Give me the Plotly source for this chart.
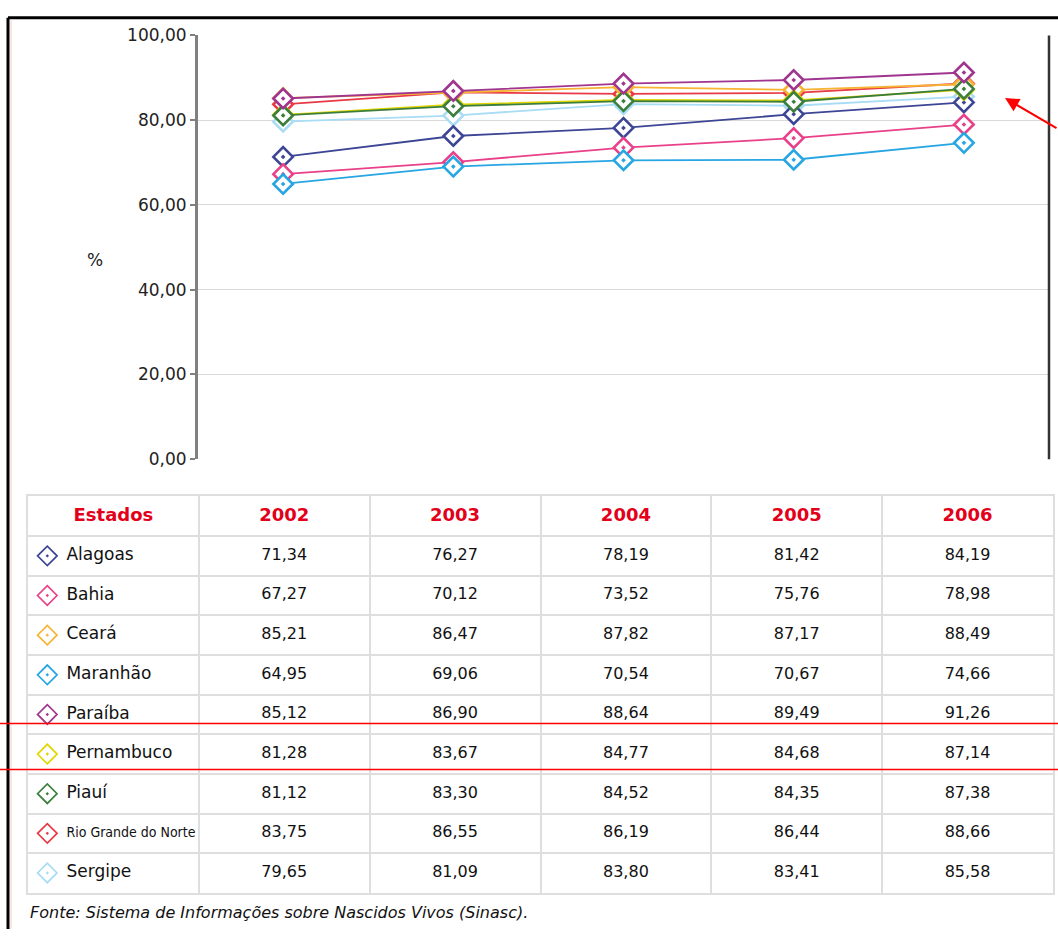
import plotly.graph_objects as go

# --- data -------------------------------------------------------------
years = ["2002", "2003", "2004", "2005", "2006"]
states = ["Alagoas", "Bahia", "Ceará", "Maranhão", "Paraíba",
          "Pernambuco", "Piauí", "Rio Grande do Norte", "Sergipe"]

alagoas = [71.34, 76.27, 78.19, 81.42, 84.19]
bahia = [67.27, 70.12, 73.52, 75.76, 78.98]
ceara = [85.21, 86.47, 87.82, 87.17, 88.49]
maranhao = [64.95, 69.06, 70.54, 70.67, 74.66]
paraiba = [85.12, 86.90, 88.64, 89.49, 91.26]
pernambuco = [81.28, 83.67, 84.77, 84.68, 87.14]
piaui = [81.12, 83.30, 84.52, 84.35, 87.38]
rio_grande_do_norte = [83.75, 86.55, 86.19, 86.44, 88.66]
sergipe = [79.65, 81.09, 83.80, 83.41, 85.58]

series = [alagoas, bahia, ceara, maranhao, paraiba,
          pernambuco, piaui, rio_grande_do_norte, sergipe]

colors = ["#3d4595", "#e9408a", "#f7b334", "#27a6e3", "#a0358f",
          "#e3d600", "#3c7f3c", "#e83a46", "#a9dcf5"]

y_ticks = [0, 20, 40, 60, 80, 100]
header = ["Estados"] + years
footnote = "Fonte: Sistema de Informações sobre Nascidos Vivos (Sinasc)."

# stacking order of the lines (last one on top)
draw_order = [8, 7, 0, 1, 3, 2, 5, 6, 4]

W, H = 1058, 939


def px_x(p):
    return p / W


def px_y(p):
    return 1 - p / H


BODY_FONT = "DejaVu Sans, Verdana, Arial, sans-serif"
NARROW_FONT = "DejaVu Sans Condensed, Liberation Sans Narrow, Arial Narrow, sans-serif"

fig = go.Figure()

# --- line chart -------------------------------------------------------
for i in draw_order:
    fig.add_trace(go.Scatter(
        x=years, y=series[i], name=states[i], mode="lines+markers",
        xaxis="x", yaxis="y",
        line=dict(color=colors[i], width=1.8),
        marker=dict(symbol="diamond-dot", size=15, color="white",
                    line=dict(color=colors[i], width=2.6)),
        showlegend=False, hoverinfo="x+y+name",
    ))

# --- data table -------------------------------------------------------
n_rows = len(states) + 1

# header row
fig.add_trace(go.Scatter(
    x=[c + 0.5 for c in range(len(header))], y=[0.5] * len(header),
    mode="text", text=header, xaxis="x2", yaxis="y2",
    textfont=dict(family=BODY_FONT, size=18, color="#e2001a", weight="bold"),
    textposition="middle center", showlegend=False, hoverinfo="skip",
))

# legend markers inside the first column
for i, name in enumerate(states):
    fig.add_trace(go.Scatter(
        x=[0.113], y=[i + 1.5], mode="markers", xaxis="x2", yaxis="y2",
        marker=dict(symbol="diamond-dot", size=15, color="white",
                    line=dict(color=colors[i], width=1.7)),
        showlegend=False, hoverinfo="skip",
    ))

# state names (the long one smaller so it fits its cell)
name_fonts = [NARROW_FONT if len(s) > 12 else BODY_FONT for s in states]
name_sizes = [14 if len(s) > 12 else 17 for s in states]
fig.add_trace(go.Scatter(
    x=[0.225] * len(states), y=[i + 1.5 for i in range(len(states))],
    mode="text", text=states, xaxis="x2", yaxis="y2",
    textposition="middle right",
    textfont=dict(family=name_fonts, size=name_sizes, color="#111111"),
    showlegend=False, hoverinfo="skip",
))

# numeric cells
cx, cy, ct = [], [], []
for i, vals in enumerate(series):
    for j, v in enumerate(vals):
        cx.append(j + 1.5)
        cy.append(i + 1.5)
        ct.append(f"{v:.2f}".replace(".", ","))
fig.add_trace(go.Scatter(
    x=cx, y=cy, mode="text", text=ct, xaxis="x2", yaxis="y2",
    textposition="middle center",
    textfont=dict(family=BODY_FONT, size=16, color="#111111"),
    showlegend=False, hoverinfo="skip",
))

# --- layout -----------------------------------------------------------
grid_gray = "#dedede"
fig.update_layout(
    width=W, height=H, autosize=False,
    margin=dict(l=0, r=0, t=0, b=0),
    paper_bgcolor="white", plot_bgcolor="white",
    separators=",.",
    font=dict(family=BODY_FONT, color="#222222"),
    xaxis=dict(domain=[px_x(198), px_x(1049)], type="category",
               range=[-0.5, 4.5], showticklabels=False, showgrid=False,
               zeroline=False, showline=False, fixedrange=True),
    yaxis=dict(domain=[px_y(459), px_y(26)], range=[0, 100],
               tickvals=y_ticks, tickformat=".2f",
               showgrid=True, gridcolor="#d9d9d9", gridwidth=1,
               zeroline=False, showline=True, linecolor="#808080",
               linewidth=3, ticks="outside", ticklen=5,
               tickcolor="#808080", tickwidth=2,
               tickfont=dict(family=BODY_FONT, size=17, color="#222222"),
               fixedrange=True),
    xaxis2=dict(domain=[px_x(28), px_x(1053)], range=[0, len(header)],
                anchor="y2", tick0=0, dtick=1, showticklabels=False,
                showgrid=True, gridcolor=grid_gray, gridwidth=2,
                zeroline=False, showline=True, mirror=True,
                linecolor=grid_gray, linewidth=2, fixedrange=True),
    yaxis2=dict(domain=[px_y(902), px_y(497)], range=[n_rows, 0],
                anchor="x2", tick0=0, dtick=1, showticklabels=False,
                showgrid=True, gridcolor=grid_gray, gridwidth=2,
                zeroline=False, showline=True, mirror=True,
                linecolor=grid_gray, linewidth=2, fixedrange=True),
)

# y-axis title
fig.add_annotation(x=px_x(85), y=px_y(243), xref="paper", yref="paper",
                   text="%", showarrow=False,
                   font=dict(family=BODY_FONT, size=17, color="#222222"))

# source line
fig.add_annotation(x=px_x(28), y=px_y(922), xref="paper", yref="paper",
                   xanchor="left", yanchor="middle", showarrow=False,
                   text=f"<i>{footnote}</i>",
                   font=dict(family=BODY_FONT, size=16, color="#111111"))

# frame lines
fig.add_shape(type="line", xref="paper", yref="paper",
              x0=px_x(8), x1=1, y0=px_y(8), y1=px_y(8),
              line=dict(color="black", width=3))
fig.add_shape(type="line", xref="paper", yref="paper",
              x0=px_x(8), x1=px_x(8), y0=0, y1=px_y(8),
              line=dict(color="black", width=3))
fig.add_shape(type="line", xref="paper", yref="paper",
              x0=px_x(11), x1=px_x(11), y0=0, y1=px_y(10),
              line=dict(color="#f7cccc", width=1))
fig.add_shape(type="line", xref="x domain", yref="y domain",
              x0=1, x1=1, y0=0, y1=1,
              line=dict(color="#333333", width=2.5))

# red highlight lines
for yy in (729, 776):
    fig.add_shape(type="line", xref="paper", yref="paper",
                  x0=0, x1=1, y0=px_y(yy), y1=px_y(yy),
                  line=dict(color="#ff0000", width=1.5))

# red pointer arrow
fig.add_annotation(x=px_x(1005), y=px_y(90), xref="paper", yref="paper",
                   ax=62, ay=31, text="", showarrow=True,
                   arrowhead=2, arrowsize=1.4, arrowwidth=2,
                   arrowcolor="#ff0000")

# pin the figure to the top-left corner of the page
pin_js = (
    "var gd=document.querySelector('.plotly-graph-div');"
    "gd.style.position='fixed';gd.style.top='0px';gd.style.left='0px';"
    "document.body.style.margin='0';"
    "document.body.style.height='939px';"
    "document.body.style.overflow='hidden';"
    "document.documentElement.style.overflow='hidden';"
)
fig.write_html("out.html", post_script=pin_js)
